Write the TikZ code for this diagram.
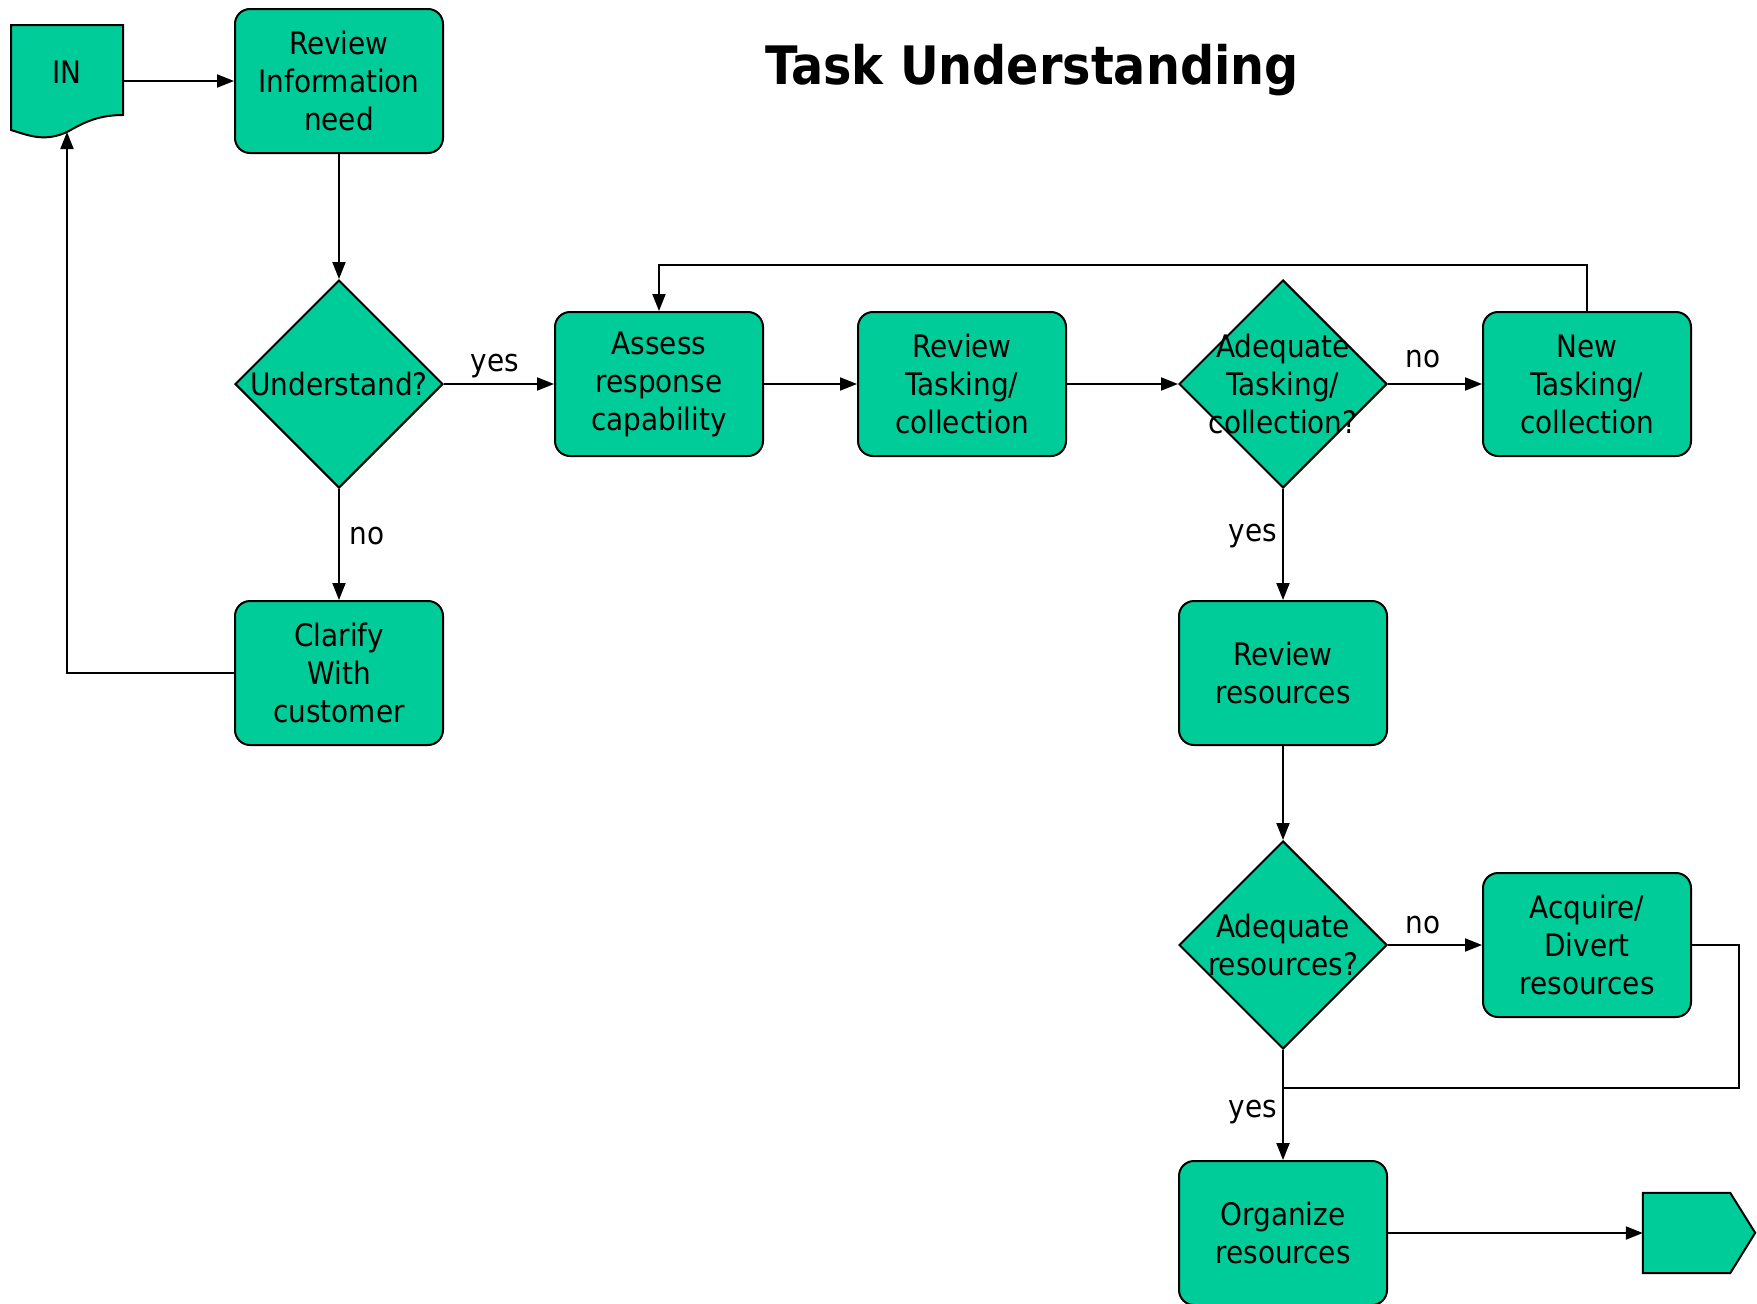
\documentclass[tikz,border=0pt]{standalone}
\usepackage{fontspec}
\setmainfont{DejaVu Sans Condensed}
\usetikzlibrary{shapes.geometric,arrows.meta}
\definecolor{flowgreen}{RGB}{0,204,153}

\begin{document}
\begin{tikzpicture}[x=1pt,y=-1pt,font=\fontsize{31}{38}\selectfont,
  box/.style={draw,line width=2pt,fill=flowgreen,rounded corners=15pt,minimum width=208pt,minimum height=144pt,align=center,inner sep=0pt},
  decision/.style={draw,line width=2pt,fill=flowgreen,diamond,minimum width=208pt,minimum height=208pt,inner sep=0pt},
  flow/.style={line width=2pt,-{Triangle[length=17pt,width=13pt]}}]
\useasboundingbox (0,0) rectangle (1757,1304);

\node[font=\fontsize{53}{60}\selectfont\bfseries] (title) at (1032,70) {Task Understanding};

% input document
\draw[line width=2pt,fill=flowgreen] (11,25) -- (123,25) -- (123,115)
  .. controls (95,115) and (80,125) .. (67,132)
  .. controls (45,142) and (30,136) .. (11,130) -- cycle;
\node[minimum width=112pt,minimum height=90pt,inner sep=0pt] (in) at (67,70) {};
\node at (67,72) {IN};
\coordinate (inbot) at (67,132);

\node[box] (need) at (339,81) {Review\\Information\\need};
\node[decision,label={[align=center]center:Understand?}] (understand) at (339,384) {};
\node[box] (clarify) at (339,673) {Clarify\\With\\customer};
\node[box] (assess) at (659,384) {Assess\\response\\capability};
\node[box] (tasking) at (962,384) {Review\\Tasking/\\collection};
\node[decision,label={[align=center]center:Adequate\\Tasking/\\collection?}] (taskok) at (1283,384) {};
\node[box] (newtask) at (1587,384) {New\\Tasking/\\collection};
\node[box] (resources) at (1283,673) {Review\\resources};
\node[decision,label={[align=center]center:Adequate\\resources?}] (resok) at (1283,945) {};
\node[box] (acquire) at (1587,945) {Acquire/\\Divert\\resources};
\node[box] (organize) at (1283,1233) {Organize\\resources};
\coordinate (join) at (1283,1088);

% output connector
\node[minimum width=87pt,minimum height=80pt,inner sep=0pt] (out) at (1686.5,1233) {};
\draw[line width=2pt,fill=flowgreen] (out.north west) -- (out.north east) -- ++(25,40)
  -- (out.south east) -- (out.south west) -- cycle;

\draw[flow] (in.east |- need.west) -- (need.west);
\draw[flow] (need.south) -- (understand.north);
\draw[flow] (understand.east) -- (assess.west);
\draw[flow] (understand.south) -- (clarify.north);
\draw[flow] (clarify.west) -| (inbot);
\draw[flow] (assess.east) -- (tasking.west);
\draw[flow] (tasking.east) -- (taskok.west);
\draw[flow] (taskok.east) -- (newtask.west);
\draw[flow] (newtask.north) -- ++(0,-46) -| (assess.north);
\draw[flow] (taskok.south) -- (resources.north);
\draw[flow] (resources.south) -- (resok.north);
\draw[flow] (resok.east) -- (acquire.west);
\draw[line width=2pt] (acquire.east) -- ++(47,0) |- (join);
\draw[flow] (resok.south) -- (organize.north);
\draw[flow] (organize.east) -- (out.west);

\node (yes1) at (495,366) {yes};
\node (no1) at (367,536) {no};
\node (no2) at (1423,359) {no};
\node (yes2) at (1253,536) {yes};
\node (no3) at (1423,925) {no};
\node (yes3) at (1253,1112) {yes};

\end{tikzpicture}
\end{document}
